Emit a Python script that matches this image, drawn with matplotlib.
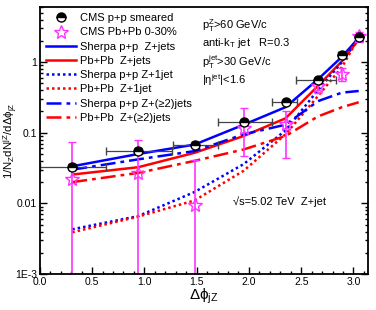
import numpy as np
import matplotlib
matplotlib.use("Agg")
import matplotlib.pyplot as plt
from matplotlib.lines import Line2D
from matplotlib.ticker import FixedLocator, FuncFormatter, MultipleLocator

# bin centres in delta phi
x = [0.31, 0.94, 1.48, 1.95, 2.35, 2.66, 2.89, 3.05]

# CMS p+p smeared
pp_y = [0.0325, 0.055, 0.067, 0.14, 0.27, 0.56, 1.27, 2.3]
pp_xlo = [0.31, 0.31, 0.21, 0.25, 0.13, 0.21, 0.04, 0.0]
pp_xhi = [0.32, 0.32, 0.22, 0.27, 0.11, 0.17, 0.04, 0.0]
pp_ylo = [0.003, 0.005, 0.005, 0.01, 0.015, 0.03, 0.06, 0.12]
pp_yhi = [0.004, 0.006, 0.006, 0.012, 0.018, 0.035, 0.07, 0.14]

# CMS Pb+Pb 0-30%
pb_y = [0.0218, 0.027, 0.0095, 0.117, 0.134, 0.46, 0.67, 2.35]
pb_ylo = [0.0217, 0.0269, 0.0094, 0.070, 0.090, 0.09, 0.13, 0.40]
pb_yhi = [0.053, 0.053, 0.031, 0.108, 0.070, 0.06, 0.16, 0.35]

# theory curves
sherpa_pp = [0.0335, 0.050, 0.068, 0.13, 0.23, 0.57, 1.19, 2.2]
pbpb = [0.0256, 0.0325, 0.052, 0.09, 0.16, 0.46, 1.03, 2.1]
sherpa_pp_1j = [0.0043, 0.0066, 0.0145, 0.036, 0.108, 0.40, 1.0, 2.3]
pbpb_1j = [0.0039, 0.0065, 0.011, 0.029, 0.095, 0.33, 0.85, 2.2]
sherpa_pp_2j = [0.030, 0.042, 0.055, 0.095, 0.13, 0.28, 0.37, 0.39]
pbpb_2j = [0.020, 0.027, 0.040, 0.058, 0.09, 0.17, 0.23, 0.27]

plt.rcParams['font.family'] = ['Liberation Sans', 'DejaVu Sans']
plt.rcParams['mathtext.fontset'] = 'custom'
plt.rcParams['mathtext.rm'] = 'Liberation Sans'
plt.rcParams['mathtext.default'] = 'regular'

fig = plt.figure(figsize=(3.76, 3.10), dpi=100)
ax = fig.add_axes([0.106, 0.116, 0.873, 0.861])

dot = (0, (1, 1.2))
dashdot = (0, (6, 2, 1.5, 2))
ax.plot(x, sherpa_pp, color='#0000ff', lw=1.8)
ax.plot(x, pbpb, color='#ff0000', lw=1.8)
ax.plot(x, sherpa_pp_1j, color='#0000ff', lw=1.8, ls=dot)
ax.plot(x, pbpb_1j, color='#ff0000', lw=1.8, ls=dot)
ax.plot(x, sherpa_pp_2j, color='#0000ff', lw=1.8, ls=dashdot)
ax.plot(x, pbpb_2j, color='#ff0000', lw=1.8, ls=dashdot)

ax.errorbar(x, pb_y, yerr=[pb_ylo, pb_yhi], fmt='*', ms=10, mfc='none', mec='#ff33ff',
            color='#ff33ff', ecolor='#ff33ff', elinewidth=1.2, capsize=3, mew=1.0)
ax.errorbar(x, pp_y, xerr=[pp_xlo, pp_xhi], yerr=[pp_ylo, pp_yhi], fmt='o', ms=6.5,
            color='black', mfc='black', mfcalt='white', fillstyle='top', mec='black',
            ecolor='#444444', elinewidth=0.9, capsize=3)

ax.set_yscale('log')
ax.set_xlim(0, 3.14)
ax.set_ylim(1e-3, 6)

ax.xaxis.set_major_locator(MultipleLocator(0.5))
ax.xaxis.set_minor_locator(MultipleLocator(0.1))
ax.xaxis.set_major_formatter(FuncFormatter(lambda v, p: '%.1f' % v))
ax.yaxis.set_major_locator(FixedLocator([1e-3, 1e-2, 1e-1, 1]))
ax.yaxis.set_major_formatter(FuncFormatter(
    lambda v, p: {1e-3: '1E-3', 1e-2: '0.01', 1e-1: '0.1', 1: '1'}.get(round(v, 6), '')))
ax.tick_params(which='both', direction='in', right=True, top=False, labelsize=7.5,
               width=1.0, pad=2)
ax.tick_params(which='major', length=5)
ax.tick_params(which='minor', length=2.5)
for s in ax.spines.values():
    s.set_linewidth(1.3)

ax.set_xlabel(r'$\Delta\phi_{jZ}$', fontsize=11, labelpad=0)
ax.set_ylabel(r'$1/N_Z dN^{jZ}/d\Delta\phi_{jZ}$', fontsize=8.2)
ax.yaxis.set_label_coords(-0.062, 0.5)

handles = [
    Line2D([], [], ls='none', marker='o', ms=6.5, color='black', mfc='black',
           mfcalt='white', fillstyle='top', mec='black'),
    Line2D([], [], ls='none', marker='*', ms=10, mfc='none', mec='#ff33ff', mew=1.0),
    Line2D([], [], color='#0000ff', lw=1.8),
    Line2D([], [], color='#ff0000', lw=1.8),
    Line2D([], [], color='#0000ff', lw=1.8, ls=dot),
    Line2D([], [], color='#ff0000', lw=1.8, ls=dot),
    Line2D([], [], color='#0000ff', lw=1.8, ls=dashdot),
    Line2D([], [], color='#ff0000', lw=1.8, ls=dashdot),
]
labels = ['CMS p+p smeared', 'CMS Pb+Pb 0-30%', 'Sherpa p+p  Z+jets', 'Pb+Pb  Z+jets',
          'Sherpa p+p Z+1jet', 'Pb+Pb  Z+1jet', 'Sherpa p+p Z+(\u22652)jets',
          'Pb+Pb  Z+(\u22652)jets']
ax.legend(handles, labels, loc='upper left', bbox_to_anchor=(0.0, 1.0), frameon=False,
          fontsize=8, handlelength=2.7, handletextpad=0.4, labelspacing=0.38,
          borderaxespad=0.25, borderpad=0.3)

ax.text(0.495, 0.918, r'p$_T^Z$>60 GeV/c', transform=ax.transAxes, fontsize=8)
ax.text(0.495, 0.854, r'anti-k$_T$ jet   R=0.3', transform=ax.transAxes, fontsize=8)
ax.text(0.495, 0.779, r'p$_T^{jet}$>30 GeV/c', transform=ax.transAxes, fontsize=8)
ax.text(0.495, 0.712, r'|$\eta^{jet}$|<1.6', transform=ax.transAxes, fontsize=8)
ax.text(0.588, 0.258, '\u221as=5.02 TeV  Z+jet', transform=ax.transAxes, fontsize=8)

fig.savefig('out.png', dpi=100)
